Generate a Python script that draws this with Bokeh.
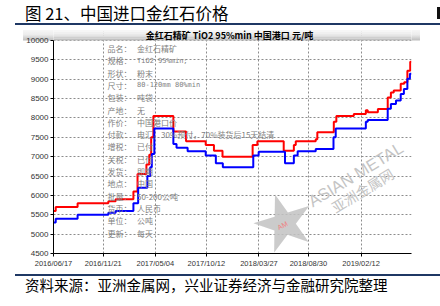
import pandas as pd
from bokeh.plotting import figure
from bokeh.layouts import column
from bokeh.models import Label, BoxAnnotation, FixedTicker, DatetimeTickFormatter, Range1d, Div
from bokeh.embed import file_html
from bokeh.resources import INLINE

# ---------------- data ----------------
red_dates = ["2016-06-17", "2016-06-24", "2016-09-01", "2016-12-07", "2016-12-30", "2017-02-24",
             "2017-03-09", "2017-04-06", "2017-04-15", "2017-04-21", "2017-04-28", "2017-06-30",
             "2017-08-09", "2017-10-10", "2017-11-05", "2017-12-02", "2018-03-07", "2018-03-22",
             "2018-06-13", "2018-07-15", "2018-07-21", "2018-09-22", "2018-09-27", "2018-11-18",
             "2018-11-26", "2019-01-20", "2019-02-27", "2019-03-05", "2019-04-06", "2019-05-07",
             "2019-05-17", "2019-05-26", "2019-06-17", "2019-06-28", "2019-07-08", "2019-07-17",
             "2019-07-21"]
red_values = [5600, 5700, 5800, 5850, 5900, 6100,
              6550, 6800, 7050, 7500, 8050, 7650,
              7400, 7300, 7150, 7000, 7300, 7400,
              7150, 7300, 7400, 7450, 7630, 7900,
              8050, 8100, 8200, 8150, 8230, 8530,
              8660, 8710, 8880, 8920, 9220, 9450,
              9450]

blue_dates = ["2016-06-17", "2016-06-24", "2016-09-01", "2016-12-07", "2016-12-30", "2017-02-24",
              "2017-03-11", "2017-04-09", "2017-04-18", "2017-04-23", "2017-05-01", "2017-06-30",
              "2017-07-10", "2017-08-14", "2017-10-10", "2017-11-11", "2017-12-03", "2018-03-09",
              "2018-03-26", "2018-06-17", "2018-07-15", "2018-07-27", "2018-09-22", "2018-11-17",
              "2018-11-24", "2019-02-27", "2019-03-05", "2019-05-07", "2019-05-17", "2019-06-02",
              "2019-06-17", "2019-06-27", "2019-07-08", "2019-07-16", "2019-07-21"]
blue_values = [5300, 5400, 5500, 5550, 5600, 5800,
               6200, 6500, 6730, 7070, 7730, 7330,
               7230, 7140, 7030, 6830, 6730, 7030,
               7130, 6830, 7030, 7140, 7200, 7500,
               7730, 7900, 7950, 8235, 8360, 8450,
               8620, 8750, 9010, 9140, 9140]

x_tick_labels = ["2016/06/17", "2016/11/21", "2017/05/04", "2017/10/12",
                 "2018/03/27", "2018/08/30", "2019/02/12"]
y_ticks = [4500, 5000, 5500, 6000, 6500, 7000, 7500, 8000, 8500, 9000, 9500, 10000]

x_start, x_end = "2016-06-17", "2019-07-21"
y_min, y_max = 4500, 10000

title_text = "图 21、中国进口金红石价格"
chart_header = "金红石精矿 TiO2 95%min 中国港口 元/吨"
source_text = "资料来源：亚洲金属网，兴业证券经济与金融研究院整理"
info_keys = ["品名：", "规格：", "形状：", "尺寸：", "包装：", "产地：", "作价：", "付款：",
             "增税：", "关税：", "发货：", "地点：", "批量：", "货币：", "单位：", "更新："]
info_vals = ["金红石精矿", "TiO2 95%min;", "粉末", "80-120mm 80%min", "吨袋", "无", "中国港口价",
             "电汇，30%预付，70%装货后15天结清", "已付", "已付", "即期", "中国", "50-200公吨",
             "人民币", "公吨", "每天"]
mono_vals = {"TiO2 95%min;", "80-120mm 80%min"}

W = 440
TOP_H = 29          # title strip (page px)
BOT_H = 32          # source strip
MID_H = 306 - TOP_H - BOT_H
L, R = 53, 411      # chart frame left / right (page px)
FT, B = 29, 253     # chart frame top / bottom (page px)
Y10K = 40           # page y of the 10000 line
NAVY = "#1f3864"
CJK = "'Noto Sans CJK SC'"

# ---------------- top strip (title + rule) ----------------
top_html = (
    f'<div style="position:relative;width:{W}px;height:{TOP_H}px;overflow:hidden;background:#ffffff;">'
    f'<div style="position:absolute;left:25px;top:3px;height:20px;line-height:20px;'
    f'font-family:{CJK};font-size:16.5px;color:#000000;white-space:nowrap;">{title_text}</div>'
    f'<div style="position:absolute;left:15px;top:23px;width:425px;height:2px;background:{NAVY};"></div>'
    f'<div style="position:absolute;left:437px;top:7px;width:3px;height:12px;background:#111111;"></div>'
    '</div>')
top = Div(text=top_html, width=W, height=TOP_H, margin=(0, 0, 0, 0))

# ---------------- bottom strip (rule + source) ----------------
OFF = TOP_H + MID_H
bot_html = (
    f'<div style="position:relative;width:{W}px;height:{BOT_H}px;overflow:hidden;background:#ffffff;">'
    f'<div style="position:absolute;left:15px;top:{274 - OFF}px;width:425px;height:2px;background:{NAVY};"></div>'
    f'<div style="position:absolute;left:25px;top:{285 - OFF - 10}px;height:20px;line-height:20px;'
    f'font-family:{CJK};font-size:14.5px;color:#000000;white-space:nowrap;">{source_text}</div>'
    '</div>')
bot = Div(text=bot_html, width=W, height=BOT_H, margin=(0, 0, 0, 0))

# ---------------- chart ----------------
y_top = y_min + (y_max - y_min) * (B - FT) / (B - Y10K)
band_css = (":host { background: linear-gradient(to bottom, #f6f6f6, #ececec 45%, #bcbcbc) "
            "23px 0.5px / 397px 10.5px no-repeat, #ffffff; }")
p = figure(width=W, height=MID_H, output_backend="svg", toolbar_location=None,
           x_axis_type="datetime", title=None,
           x_range=Range1d(pd.Timestamp(x_start), pd.Timestamp(x_end)),
           y_range=Range1d(y_min, y_top),
           min_border_left=L, min_border_right=W - R, min_border_top=0,
           min_border_bottom=TOP_H + MID_H - B, stylesheets=[band_css], margin=(0, 0, 0, 0))
p.outline_line_color = None
p.background_fill_color = "white"
p.border_fill_color = None


def lab(cx, cy, text, size, color="#000000", font="Noto Sans CJK SC", align="left",
        baseline="middle", angle=0.0, style="normal", alpha=1.0):
    p.add_layout(Label(x=cx - L, y=B - cy, x_units="screen", y_units="screen", text=text,
                       text_font_size=f"{size}px", text_color=color, text_font=font,
                       text_align=align, text_baseline=baseline, angle=angle,
                       text_font_style=style, text_alpha=alpha))


def box(x0, x1, y0, y1, color):
    p.add_layout(BoxAnnotation(left=max(x0, L) - L, right=min(x1, R) - L, top=B - y0,
                               bottom=B - y1, left_units="screen", right_units="screen",
                               top_units="screen", bottom_units="screen",
                               fill_color=color, fill_alpha=1.0, line_color=None,
                               level="underlay"))


tick_ts = [pd.Timestamp(s.replace("/", "-")) for s in x_tick_labels]
p.xaxis.ticker = FixedTicker(ticks=[t.value // 10**6 for t in tick_ts])
fmt = "%Y/%m/%d"
p.xaxis.formatter = DatetimeTickFormatter(days=fmt, months=fmt, years=fmt)
p.yaxis.ticker = FixedTicker(ticks=y_ticks)
p.yaxis.bounds = (y_min, y_max)
for ax in (p.xaxis, p.yaxis):
    ax.axis_line_color = "#000000"
    ax.major_tick_line_color = "#000000"
    ax.major_tick_in = 0
    ax.major_tick_out = 3
    ax.minor_tick_line_color = None
    ax.major_label_text_font = "Liberation Sans"
    ax.major_label_text_color = "#333333"
    ax.major_label_standoff = 2
p.xaxis.major_label_text_font_size = "7.5px"
p.yaxis.major_label_text_font_size = "8px"

for g in (p.xgrid, p.ygrid):
    g.grid_line_color = "#8c8c8c"
    g.grid_line_dash = "2 2"
    g.grid_line_width = 1

# header band inside the frame (covers the grid there)
band_cols = ["#f6f6f6", "#f0f0f0", "#e9e9e9", "#dedede", "#cfcfcf", "#bfbfbf"]
for i, c in enumerate(band_cols):
    box(23, 420, 29.5 + i * 1.75, 29.5 + (i + 1) * 1.75, c)
lab(229, 34.5, chart_header, 9, "#000000", style="bold", align="center")

# info card text
for i, (k, v) in enumerate(zip(info_keys, info_vals)):
    cy = 48 + i * 12.3
    lab(107, cy, k, 8, "#808080")
    if v in mono_vals:
        lab(136.5, cy, v, 7, "#808080", font="DejaVu Sans Mono")
    else:
        lab(136.5, cy, v, 8, "#808080")

# watermark
lab(283, 221, "★", 76, "#c2c2c2", font="DejaVu Sans", align="center", angle=0.3, alpha=0.85)
lab(282, 225, "AM", 7, "#f08080", font="Liberation Sans", align="center", angle=0.5)
lab(309, 202, "ASIAN METAL", 16.5, "#c4c4c4", font="Liberation Sans",
    baseline="alphabetic", angle=0.55)
lab(332, 208, "亚洲金属网", 14, "#c4c4c4", baseline="alphabetic", angle=0.55)

# series
p.step(pd.to_datetime(red_dates), red_values, mode="after", line_color="#ff0000", line_width=2)
p.step(pd.to_datetime(blue_dates), blue_values, mode="after", line_color="#0000ff", line_width=2)

layout = column(top, p, bot, spacing=0)
open("out.html", "w").write(file_html(layout, INLINE))
